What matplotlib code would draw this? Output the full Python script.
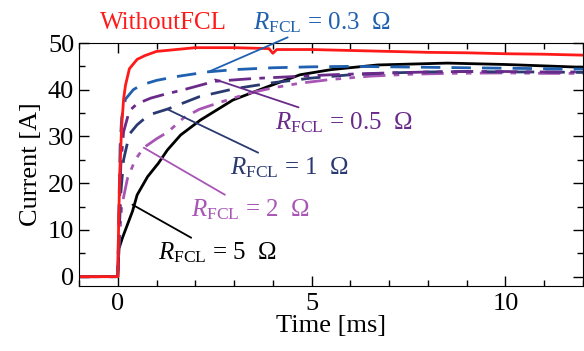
import matplotlib
matplotlib.use('Agg')
import matplotlib.pyplot as plt

plt.rcParams['font.family'] = ['Liberation Serif', 'DejaVu Serif']
plt.rcParams['mathtext.fontset'] = 'custom'
plt.rcParams['mathtext.rm'] = 'Liberation Serif'
plt.rcParams['mathtext.it'] = 'Liberation Serif:italic'

# Daten
t_wo = [-1, 0, 0.02, 0.05, 0.1, 0.15, 0.2, 0.3, 0.5, 0.7, 1.0, 1.5, 2, 3, 3.9, 4.0, 4.1, 5, 6, 7, 8, 9, 10, 11, 12]
i_wo = [0, 0, 10, 22, 32, 38, 41, 44.5, 46.5, 47.3, 48.2, 48.6, 49, 49, 48.8, 47.8, 48.6, 48.6, 48.4, 48.2, 48, 47.9, 47.7, 47.6, 47.4]

t_03 = [-1, 0, 0.03, 0.06, 0.1, 0.2, 0.4, 0.6, 1, 1.5, 2.3, 3, 4, 5, 6, 7, 8, 9, 10, 11, 12]
i_03 = [0, 0, 15, 28, 34, 38, 40, 41, 42, 42.8, 43.8, 44.3, 44.7, 44.9, 45, 44.9, 44.8, 44.7, 44.6, 44.5, 44.4]

t_05 = [-1, 0, 0.03, 0.08, 0.15, 0.3, 0.5, 0.85, 1.2, 1.7, 2.5, 3.5, 4.5, 5.5, 7, 8, 9, 10, 11, 12]
i_05 = [0, 0, 12, 24, 31, 35.5, 37, 38.2, 39, 40, 41.8, 42.4, 42.8, 43.2, 43.6, 43.8, 43.9, 43.9, 43.8, 43.8]

t_1 = [-1, 0, 0.03, 0.08, 0.15, 0.3, 0.5, 0.8, 1.3, 2.1, 3, 4, 5, 6, 7, 8, 9, 10, 11, 12]
i_1 = [0, 0, 8, 18, 25, 30.5, 32.5, 34.6, 35.9, 38.5, 40.2, 41.5, 42.5, 43.2, 43.6, 43.8, 43.9, 43.8, 43.8, 43.7]

t_2 = [-1, 0, 0.03, 0.1, 0.25, 0.45, 0.67, 1, 1.3, 1.7, 2.1, 2.6, 3.4, 4, 4.7, 5.5, 6.5, 7.5, 8.5, 10, 11, 12]
i_2 = [0, 0, 6, 15, 21, 25, 27.6, 29.5, 31, 34, 35.8, 37.2, 39.3, 40.4, 41.4, 42.2, 42.9, 43.3, 43.5, 43.6, 43.5, 43.5]

t_5 = [-1, 0, 0.03, 0.12, 0.38, 0.5, 0.77, 1.05, 1.28, 1.62, 2.13, 2.97, 3.85, 4.7, 5.5, 6.7, 8.5, 10, 11, 12]
i_5 = [0, 0, 6, 8.3, 14, 17.5, 21.4, 24.3, 27.1, 30.3, 33.5, 37.8, 40.6, 43.2, 44.3, 45.3, 45.7, 45.4, 45.1, 44.8]

c_wo = '#ff1a1a'
c_03 = '#2060b0'
c_05 = '#6a2a8a'
c_1 = '#2a3a70'
c_2 = '#a855b5'

fig = plt.figure(figsize=(5.84, 3.51), dpi=100)
ax = fig.add_axes([79/584, 1-286/351, 504/584, 243/351])

ax.plot(t_5, i_5, color='black', lw=2)
ax.plot(t_2, i_2, color=c_2, lw=2, dashes=[8, 3, 2, 3, 2, 3])
ax.plot(t_1, i_1, color=c_1, lw=2, dashes=[7, 4])
ax.plot(t_05, i_05, color=c_05, lw=2, dashes=[8, 3, 2, 3])
ax.plot(t_03, i_03, color=c_03, lw=2, dashes=[7, 4])
ax.plot(t_wo, i_wo, color=c_wo, lw=2)

ax.set_xlim(-1, 12)
ax.set_ylim(-2, 50)
ax.set_xticks([0, 5, 10])
ax.set_xticks(range(-1, 13), minor=True)
ax.set_yticks([0, 10, 20, 30, 40, 50])
ax.set_yticks(range(0, 51, 5), minor=True)
ax.tick_params(which='both', direction='in', top=True, right=True, labelsize=19, width=1)
ax.tick_params(which='major', length=7)
ax.tick_params(which='minor', length=4)
ax.tick_params(axis='x', which='major', pad=5)
ax.set_xlabel('Time [ms]', fontsize=19, labelpad=0)
ax.set_ylabel('Current [A]', fontsize=19, labelpad=4)

# Beschriftungen
fs = 18
ax.text(-0.45, 53.0, 'WithoutFCL', color=c_wo, fontsize=fs, va='baseline')
ax.annotate(r'$R_{\rm FCL}$ = 0.3  Ω', xy=(2.33, 43.8), xytext=(3.5, 53.0),
            color=c_03, fontsize=fs, va='baseline',
            arrowprops=dict(arrowstyle='-', color=c_03, lw=1.3, shrinkA=0, shrinkB=0))
ax.annotate(r'$R_{\rm FCL}$ = 0.5  Ω', xy=(2.51, 42.2), xytext=(4.05, 33.0),
            color=c_05, fontsize=fs, va='center',
            arrowprops=dict(arrowstyle='-', color=c_05, lw=1.3, shrinkA=0, shrinkB=0))
ax.annotate(r'$R_{\rm FCL}$ = 1  Ω', xy=(1.31, 35.7), xytext=(2.9, 23.3),
            color=c_1, fontsize=fs, va='center',
            arrowprops=dict(arrowstyle='-', color=c_1, lw=1.3, shrinkA=0, shrinkB=0))
ax.annotate(r'$R_{\rm FCL}$ = 2  Ω', xy=(0.67, 27.6), xytext=(1.9, 14.3),
            color=c_2, fontsize=fs, va='center',
            arrowprops=dict(arrowstyle='-', color=c_2, lw=1.3, shrinkA=0, shrinkB=0))
ax.annotate(r'$R_{\rm FCL}$ = 5  Ω', xy=(0.38, 15.4), xytext=(1.05, 5.1),
            color='black', fontsize=fs, va='center',
            arrowprops=dict(arrowstyle='-', color='black', lw=1.3, shrinkA=0, shrinkB=0))

fig.savefig('out.png', dpi=100)
